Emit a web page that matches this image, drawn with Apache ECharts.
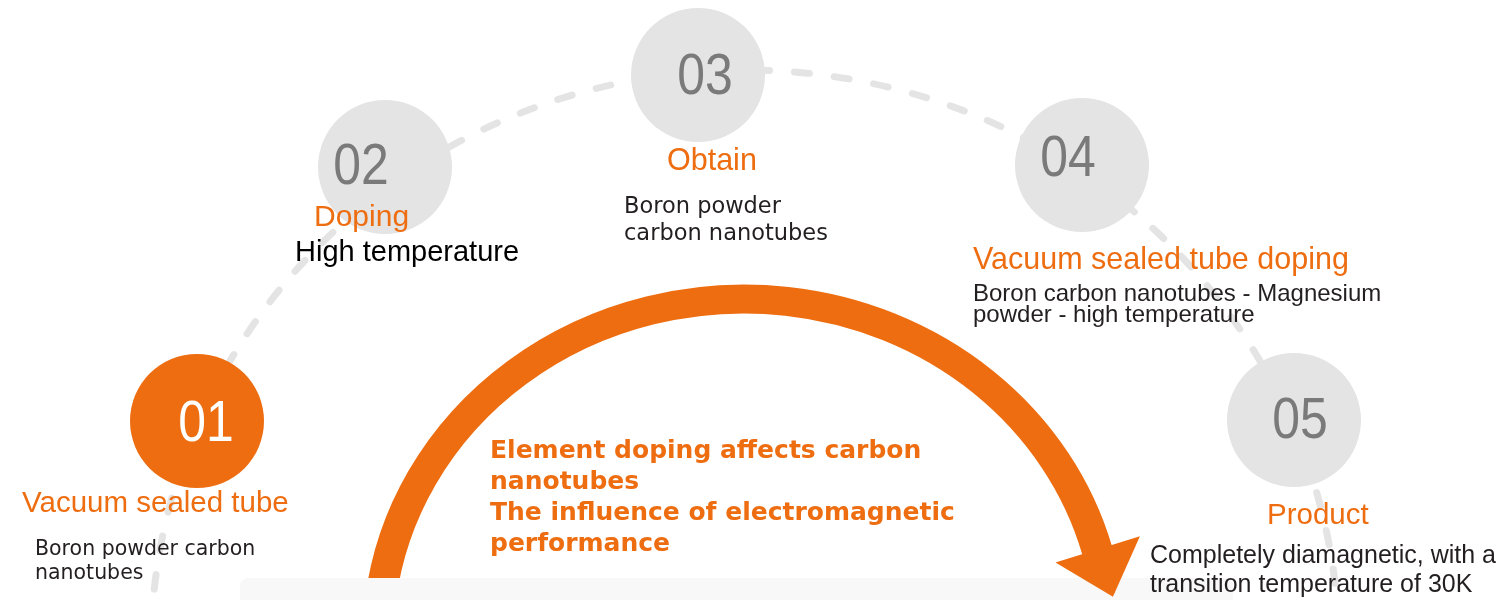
<!DOCTYPE html>
<html>
<head>
<meta charset="utf-8">
<script src="https://cdn.jsdelivr.net/npm/echarts@6/dist/echarts.min.js"></script>
<style>
html, body { margin: 0; padding: 0; background: #ffffff; }
#main { width: 1504px; height: 600px; }
</style>
</head>
<body>
<div id="main"></div>
<script>
// ---- data ----
const stepNumbers = ['01', '02', '03', '04', '05'];
const stepTitles = ['Vacuum sealed tube', 'Doping', 'Obtain', 'Vacuum sealed tube doping', 'Product'];
const stepDescriptions = [
  'Boron powder carbon\nnanotubes',
  'High temperature',
  'Boron powder\ncarbon nanotubes',
  'Boron carbon nanotubes - Magnesium\npowder - high temperature',
  'Completely diamagnetic, with a\ntransition temperature of 30K'
];
const stepX = [197, 385, 698, 1082, 1294];
const stepY = [421, 167, 75, 165, 420];
const centerLines = ['Element doping affects carbon', 'nanotubes', 'The influence of electromagnetic', 'performance'];

// ---- styles / layout ----
const ORANGE = '#ED6D10';
const GREY_CIRCLE = '#E4E4E4';
const GREY_NUM = '#7A7A7A';
const DARK = '#231F20';
const numberOffset = [[9, 4], [-24, 1], [7, 3], [-14, -5], [6, 2]];
const titleOffset = [[-175, 83], [-71, 51], [-31, 87], [-109, 96], [-27, 96]];
const titleSize = [29.5, 30, 30.5, 30.5, 29.5];
const descOffset = [[-162, 141], [-90, 86], [-74, 146], [-109, 140], [-144, 151]];
const descStyle = [
  { fontFamily: '"DejaVu Sans"', fontSize: 20.5, lineHeight: 24, color: DARK },
  { fontFamily: '"Liberation Sans", Arial', fontSize: 29, lineHeight: 30, color: '#000000' },
  { fontFamily: '"DejaVu Sans"', fontSize: 22.5, lineHeight: 27, color: DARK },
  { fontFamily: '"Liberation Sans", Arial', fontSize: 24, lineHeight: 21, color: DARK },
  { fontFamily: '"Liberation Sans", Arial', fontSize: 25, lineHeight: 29, color: DARK }
];

const W = 1504, H = 600;
const chart = echarts.init(document.getElementById('main'), null, { renderer: 'canvas', width: W, height: H });

// dashed guide ellipse
const guide = { cx: 745, cy: 650, rx: 594, ry: 580 };
// orange arrow ellipse (centre-line)
const arrow = { cx: 744, cy: 640, rx: 366, ry: 341, width: 31 };
const sy = arrow.ry / arrow.rx;
const a0 = Math.atan2((600 - arrow.cy) / sy, 380.5 - arrow.cx) + 2 * Math.PI;
const a1 = Math.atan2((550.8 - arrow.cy) / sy, 1097.3 - arrow.cx) + 2 * Math.PI;
const E = [arrow.cx + arrow.rx * Math.cos(a1), arrow.cy + arrow.ry * Math.sin(a1)];
let t = [-arrow.rx * Math.sin(a1), arrow.ry * Math.cos(a1)];
const tl = Math.hypot(t[0], t[1]);
t = [t[0] / tl, t[1] / tl];
const n = [t[1], -t[0]];
const headHalf = 45, headLen = 49;
const head = [
  [E[0] + headHalf * n[0] - 2 * t[0], E[1] + headHalf * n[1] - 2 * t[1]],
  [E[0] + headLen * t[0] + 2, E[1] + headLen * t[1] - 1],
  [E[0] - headHalf * n[0] - 2 * t[0] + 2, E[1] - headHalf * n[1] - 2 * t[1] + 1]
];

const circleData = stepX.map((x, i) => ({
  value: [x, stepY[i]],
  itemStyle: { color: i === 0 ? ORANGE : GREY_CIRCLE, opacity: 1 }
}));

const titleData = stepX.map((x, i) => ({
  value: [x, stepY[i]],
  label: {
    show: true,
    formatter: stepTitles[i],
    position: 'inside',
    offset: titleOffset[i],
    align: 'left',
    verticalAlign: 'middle',
    color: ORANGE,
    opacity: 1,
    fontSize: titleSize[i],
    fontFamily: '"Liberation Sans", Arial',
    textBorderWidth: 0
  }
}));

const descData = stepX.map((x, i) => ({
  value: [x, stepY[i]],
  label: Object.assign({
    show: true,
    formatter: stepDescriptions[i],
    position: 'inside',
    offset: descOffset[i],
    align: 'left',
    verticalAlign: 'middle',
    opacity: 1,
    textBorderWidth: 0
  }, descStyle[i])
}));

const baseGraphics = [
  {
    id: 'guide', type: 'arc', z: 0,
    shape: { cx: guide.cx, cy: guide.cy, r: guide.rx, startAngle: Math.PI, endAngle: 2 * Math.PI, clockwise: true },
    scaleY: guide.ry / guide.rx, originX: guide.cx, originY: guide.cy,
    style: { fill: 'none', stroke: '#E4E4E4', lineWidth: 7, lineDash: [15, 25], lineDashOffset: 17.5, lineCap: 'round' },
    silent: true
  },
  {
    id: 'arrowArc', type: 'arc', z: 1,
    shape: { cx: arrow.cx, cy: arrow.cy, r: arrow.rx, startAngle: a0, endAngle: a1, clockwise: true },
    scaleY: sy, originX: arrow.cx, originY: arrow.cy,
    style: { fill: 'none', stroke: ORANGE, lineWidth: arrow.width },
    silent: true
  },
  {
    id: 'band', type: 'rect', z: 2,
    shape: { x: 240, y: 578, width: 993, height: 40, r: [8, 8, 0, 0] },
    style: { fill: '#F8F8F8' },
    silent: true
  },
  {
    id: 'arrowHead', type: 'polygon', z: 3,
    shape: { points: head },
    style: { fill: ORANGE },
    silent: true
  },
  {
    id: 'centerText', type: 'text', z: 3,
    style: {
      x: 490, y: 498,
      text: centerLines.join('\n'),
      fill: ORANGE,
      fontSize: 25, fontWeight: 'bold', fontFamily: '"DejaVu Sans"',
      lineHeight: 31,
      verticalAlign: 'middle', align: 'left'
    },
    silent: true
  }
];

const option = {
  animation: false,
  backgroundColor: '#FFFFFF',
  grid: { left: 0, right: 0, top: 0, bottom: 0 },
  xAxis: { type: 'value', min: 0, max: W, show: false },
  yAxis: { type: 'value', min: 0, max: H, inverse: true, show: false },
  graphic: baseGraphics,
  series: [
    {
      type: 'scatter', name: 'steps', z: 10,
      symbol: 'circle', symbolSize: 134,
      itemStyle: { opacity: 1 },
      data: circleData,
      silent: true
    },
    {
      type: 'scatter', name: 'titles', z: 11,
      symbolSize: 0,
      itemStyle: { opacity: 1 },
      data: titleData,
      silent: true
    },
    {
      type: 'scatter', name: 'descriptions', z: 11,
      symbolSize: 0,
      itemStyle: { opacity: 1 },
      data: descData,
      silent: true
    }
  ]
};
chart.setOption(option);

// step numbers: placed at the scatter points via the chart's own scales, narrowed horizontally
const numberGraphics = stepX.map((x, i) => {
  const p = chart.convertToPixel({ gridIndex: 0 }, [x, stepY[i]]);
  return {
    id: 'num' + i, type: 'text', z: 20, zlevel: 0,
    x: p[0] + numberOffset[i][0], y: p[1] + numberOffset[i][1],
    scaleX: 0.86,
    style: {
      text: stepNumbers[i],
      x: 0, y: 0,
      fill: i === 0 ? '#FFFFFF' : GREY_NUM,
      fontSize: 58,
      fontFamily: '"Liberation Sans Narrow", "Liberation Sans", Arial',
      align: 'center', verticalAlign: 'middle'
    },
    silent: true
  };
});
chart.setOption({ graphic: baseGraphics.concat(numberGraphics) });
</script>
</body>
</html>
